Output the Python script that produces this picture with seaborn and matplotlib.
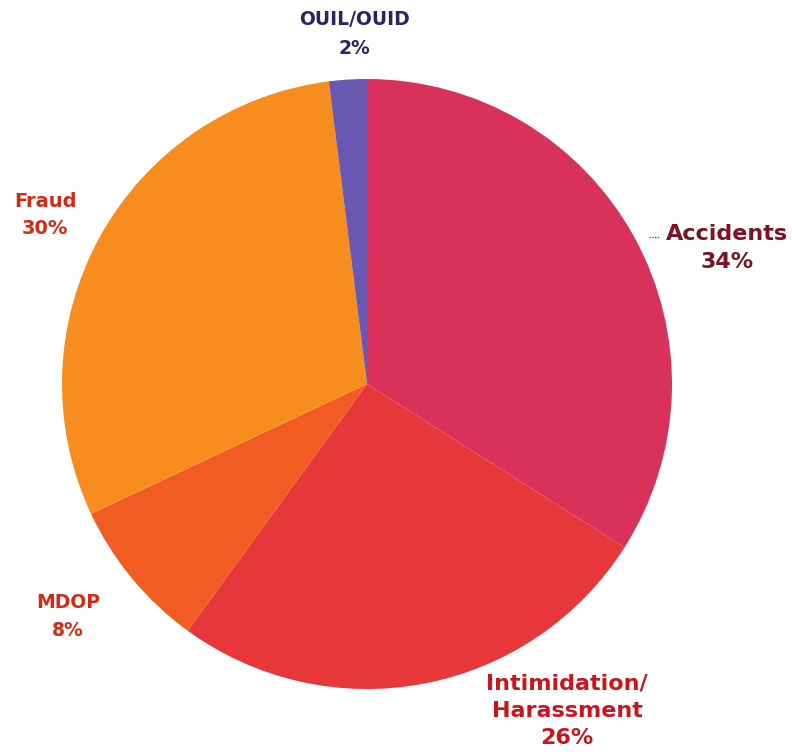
import matplotlib
matplotlib.use("Agg")
import matplotlib.pyplot as plt
import seaborn as sns

categories = ["Accidents", "Intimidation/\nHarassment", "MDOP", "Fraud", "OUIL/OUID"]
values = [34, 26, 8, 30, 2]
wedge_colors = ["#d8325a", "#e8373b", "#f15c22", "#f78d1f", "#6858b2"]
label_colors = ["#7c1222", "#c8161c", "#d52a12", "#d52a12", "#2a2462"]

sns.set_theme(style="white")
plt.rcParams['font.family'] = ['DejaVu Sans']

W, H = 792, 755
cx, cy, R = 367, 384, 305
fig = plt.figure(figsize=(W / 100, H / 100), dpi=100)
ax = fig.add_axes([0, 0, 1, 1])

ax.pie(values, colors=wedge_colors, startangle=90, counterclock=False,
       radius=1, center=(0, 0), wedgeprops=dict(linewidth=0))

def px(x, y):
    return (x - cx) / R, (cy - y) / R

ax.set_xlim(px(0, 0)[0], px(W, 0)[0])
ax.set_ylim(px(0, H)[1], px(0, 0)[1])
ax.set_aspect("auto")
ax.axis("off")

# label placement (pixel anchors)
label_pos = [(727, 248), (567, 711), (68, 617), (45, 215), (354, 34)]
sizes = [16, 16, 13.5, 14, 13.5]
spacing = [1.55, 1.45, 1.6, 1.55, 1.7]
for cat, v, (lx, ly), col, s, ls in zip(categories, values, label_pos, label_colors, sizes, spacing):
    x, y = px(lx, ly)
    ax.text(x, y, f"{cat}\n{v}%", ha="center", va="center", color=col,
            fontsize=s, fontweight="bold", linespacing=ls)

# small leader dash near Accidents
x1, y1 = px(649, 237)
x2, y2 = px(659, 237)
ax.plot([x1, x2], [y1, y2], color="#555555", lw=1, ls=(0, (1, 1)))

fig.savefig("out.png", dpi=100, facecolor="white")
